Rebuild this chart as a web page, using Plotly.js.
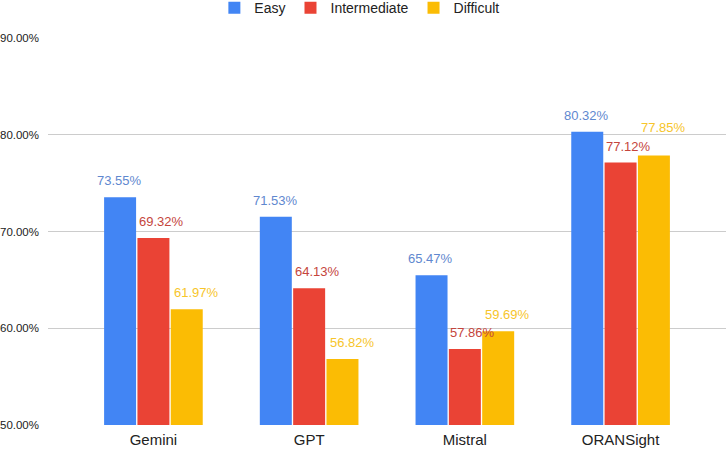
<!DOCTYPE html>
<html><head><meta charset="utf-8">
<script src="https://cdn.plot.ly/plotly-3.0.1.min.js"></script>
<style>html,body{margin:0;padding:0;background:#fff}#chart{width:726px;height:452px}</style>
</head><body><div id="chart"></div>
<script>
var categories = ["Gemini", "GPT", "Mistral", "ORANSight"];
var easy = [73.55, 71.53, 65.47, 80.32];
var intermediate = [69.32, 64.13, 57.86, 77.12];
var difficult = [61.97, 56.82, 59.69, 77.85];
var seriesNames = ["Easy", "Intermediate", "Difficult"];
var colors = ["#4285F4", "#EA4335", "#FBBC04"];
var labelColors = ["#5f88cf", "#c5453c", "#f7c52a"];
var yTicks = [50, 60, 70, 80, 90];

var FONT = "Arial, Liberation Sans, sans-serif";
var W = 726, H = 452, M = {l: 48, r: 0, t: 38, b: 27};
var Y_RANGE = [50, 90];
var seriesVals = [easy, intermediate, difficult];
var traces = seriesVals.map(function(v, i){
  return {
    type: "bar", name: seriesNames[i], x: categories, y: v,
    marker: {color: colors[i]}, hoverinfo: "none"
  };
});

// value labels above each bar; a label that would collide with its left neighbour is lifted
var pxPerUnit = (H - M.t - M.b) / (Y_RANGE[1] - Y_RANGE[0]);
var BASE_SHIFT = 7, LABEL_H = 15;
var xShifts = [-34, 8, 43];
var annotations = [];
categories.forEach(function(cat, j){
  var prevBottom = null;
  seriesVals.forEach(function(v, i){
    var val = v[j];
    var bottom = val * pxPerUnit + BASE_SHIFT;
    if (prevBottom !== null && bottom < prevBottom + LABEL_H && bottom + LABEL_H > prevBottom) {
      bottom = prevBottom + LABEL_H + 4;
    }
    prevBottom = bottom;
    annotations.push({
      x: cat, y: val, xref: "x", yref: "y",
      text: val.toFixed(2) + "%", showarrow: false,
      xanchor: "center", yanchor: "bottom",
      xshift: xShifts[i], yshift: bottom - val * pxPerUnit,
      font: {size: 13, color: labelColors[i], family: FONT}
    });
  });
});

var layout = {
  width: W, height: H,
  margin: {l: M.l, r: M.r, t: M.t, b: M.b, autoexpand: false},
  paper_bgcolor: "#fff", plot_bgcolor: "#fff",
  font: {family: FONT, color: "#222"},
  barmode: "group", bargap: 0.358, bargroupgap: 0.04,
  showlegend: true,
  legend: {orientation: "h", xref: "container", yref: "container", x: 0.495, xanchor: "center",
           y: 0.982, yanchor: "middle", font: {size: 14, color: "#222"}, traceorder: "normal"},
  annotations: annotations,
  xaxis: {type: "category", range: [-0.677, 3.677], showgrid: false, zeroline: false,
          showline: false, ticks: "", tickfont: {size: 15, color: "#222"}, ticklabelstandoff: 4, fixedrange: true},
  yaxis: {range: Y_RANGE, tickvals: yTicks, ticktext: yTicks.map(function(t){return t.toFixed(2)+"%";}),
          showgrid: true, gridcolor: "#cccccc", gridwidth: 1, zeroline: false, showline: false,
          ticks: "", tickfont: {size: 11.5, color: "#222"}, ticklabelstandoff: 8, fixedrange: true}
};
Plotly.newPlot("chart", traces, layout, {displayModeBar: false, staticPlot: true});
</script></body></html>
